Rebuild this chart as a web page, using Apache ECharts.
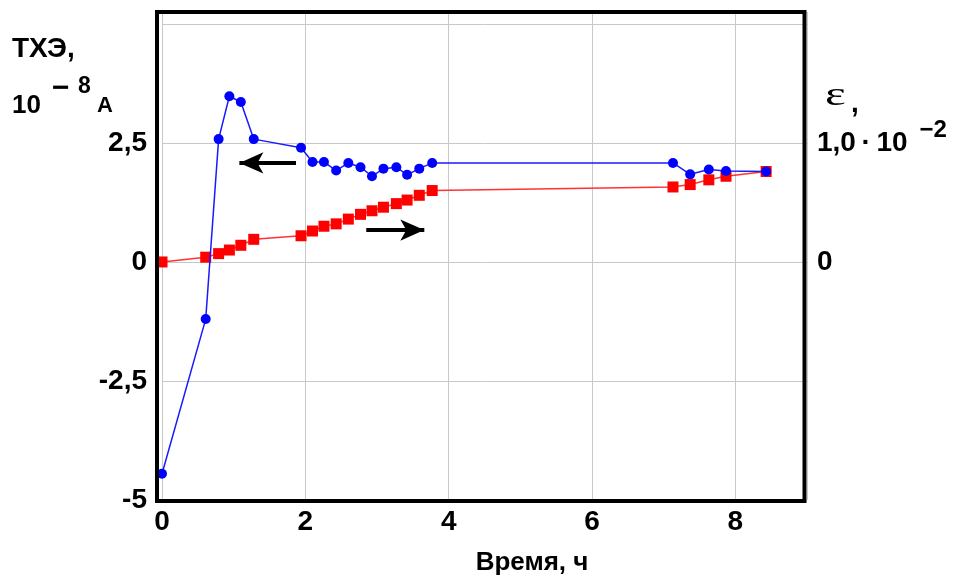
<!DOCTYPE html>
<html>
<head>
<meta charset="utf-8">
<script src="https://cdn.jsdelivr.net/npm/echarts@6/dist/echarts.min.js"></script>
<style>
  html, body { margin: 0; padding: 0; background: #fff; }
  #chart { width: 955px; height: 581px; }
</style>
</head>
<body>
<div id="chart"></div>
<script>
// время, ч
const timeH = [0, 0.61, 0.79, 0.94, 1.10, 1.28, 1.94, 2.10, 2.26, 2.43, 2.60, 2.77, 2.93, 3.09, 3.27, 3.42, 3.59, 3.77, 7.13, 7.37, 7.63, 7.87, 8.43];
// ТХЭ, 10^-8 A (левая ось)
const thermoCurrent = [-4.45, -1.20, 2.58, 3.48, 3.36, 2.58, 2.40, 2.10, 2.10, 1.92, 2.08, 1.99, 1.80, 1.96, 1.99, 1.83, 1.96, 2.08, 2.08, 1.84, 1.94, 1.91, 1.90];
// ε, 10^-2 (правая ось)
const strain = [0, 0.04, 0.07, 0.10, 0.14, 0.19, 0.22, 0.26, 0.30, 0.32, 0.36, 0.40, 0.43, 0.46, 0.49, 0.52, 0.56, 0.60, 0.63, 0.65, 0.69, 0.72, 0.76];

const xTicks = [0, 2, 4, 6, 8];
const leftTicks = [-5, -2.5, 0, 2.5];
const rightTicks = [0, 1];

const font = "'Liberation Sans', Arial, sans-serif";
const gridColor = '#c8c8c8';

const chart = echarts.init(document.getElementById('chart'));

const option = {
    animation: false,
    backgroundColor: '#fff',
    grid: { left: 162, right: 148, top: 12, bottom: 77 },
    xAxis: {
        type: 'value', min: 0, max: 9, interval: 2,
        axisLine: { show: false }, axisTick: { show: false },
        splitLine: { lineStyle: { color: gridColor, width: 1 } },
        axisLabel: {
            margin: 8, color: '#000', fontFamily: font, fontWeight: 'bold', fontSize: 28,
            formatter: v => xTicks.includes(v) ? String(v) : ''
        },
        name: 'Время, ч', nameLocation: 'middle', nameGap: 50,
        nameTextStyle: { color: '#000', fontFamily: font, fontWeight: 'bold', fontSize: 26, padding: [0, 0, 0, 95] }
    },
    yAxis: [
        {
            type: 'value', min: -5, max: 5.25, interval: 2.5,
            axisLine: { show: false }, axisTick: { show: false },
            splitLine: { lineStyle: { color: gridColor, width: 1 } },
            axisLabel: {
                margin: 15, color: '#000', fontFamily: font, fontWeight: 'bold', fontSize: 28,
                formatter: v => leftTicks.includes(v) ? String(v).replace('.', ',') : ''
            }
        },
        {
            type: 'value', min: -2, max: 2.1, interval: 1, position: 'right',
            axisLine: { show: false }, axisTick: { show: false }, splitLine: { show: false },
            axisLabel: {
                margin: 10, color: '#000', fontFamily: font,
                formatter: v => {
                    if (!rightTicks.includes(v)) return '';
                    return v === 0 ? '{a|0}' : '{a|1,0\u2009·\u200910}{s|−2}';
                },
                rich: {
                    a: { fontSize: 28, fontWeight: 'bold', fontFamily: font, color: '#000', lineHeight: 50 },
                    s: { fontSize: 24, fontWeight: 'bold', fontFamily: font, color: '#000', lineHeight: 12, verticalAlign: 'top', padding: [0, 0, 0, 12] }
                }
            }
        }
    ],
    series: [
        {
            name: 'ε', type: 'line', yAxisIndex: 1,
            data: timeH.map((t, i) => [t, strain[i]]),
            symbol: 'rect', symbolSize: 11,
            itemStyle: { color: '#ff0000' },
            lineStyle: { color: '#ff3333', width: 1.5 },
            z: 2
        },
        {
            name: 'ТХЭ', type: 'line', yAxisIndex: 0,
            data: timeH.map((t, i) => [t, thermoCurrent[i]]),
            symbol: 'circle', symbolSize: 10,
            itemStyle: { color: '#0000ff' },
            lineStyle: { color: '#1a1aff', width: 1.5 },
            z: 3,
            markLine: {
                silent: true, animation: false,
                symbol: ['arrow', 'none'], symbolSize: [16, 24],
                label: { show: false },
                lineStyle: { color: '#000', width: 4, type: 'solid' },
                data: [
                    [{ coord: [1.08, 2.08] }, { coord: [1.87, 2.08] }],
                    [{ coord: [3.66, 0.67] }, { coord: [2.85, 0.67] }]
                ]
            }
        }
    ],
    graphic: [
        // рамка графика
        { type: 'rect', z: 10, shape: { x: 157, y: 12, width: 647.5, height: 489 },
          style: { fill: 'none', stroke: '#000', lineWidth: 4 } },
        { type: 'text', left: 12, top: 35, style: { text: 'ТХЭ,', font: "bold 28px " + font, fill: '#000' } },
        { type: 'text', left: 12, top: 93, style: { text: '10', font: "bold 26px " + font, fill: '#000' } },
        { type: 'text', left: 52, top: 74, style: { text: '−', font: "bold 30px " + font, fill: '#000' } },
        { type: 'text', left: 78, top: 75, style: { text: '8', font: "bold 23px " + font, fill: '#000' } },
        { type: 'text', left: 97, top: 95, style: { text: 'A', font: "bold 22px " + font, fill: '#000' } },
        { type: 'text', left: 825, top: 79, scaleX: 1.45, style: { text: 'ε', font: "34px 'Liberation Serif', 'DejaVu Serif', serif", fill: '#000' } },
        { type: 'text', left: 851, top: 90, style: { text: ',', font: "bold 28px " + font, fill: '#000' } }
    ]
};

chart.setOption(option);
</script>
</body>
</html>
